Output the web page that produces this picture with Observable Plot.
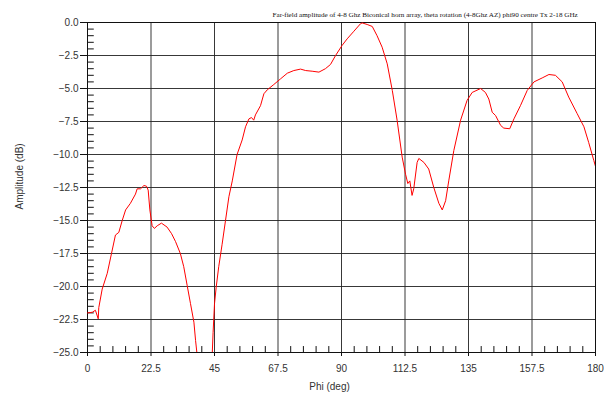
<!DOCTYPE html>
<html>
<head>
<meta charset="utf-8">
<script src="https://cdn.jsdelivr.net/npm/d3@7"></script>
<script src="https://cdn.jsdelivr.net/npm/@observablehq/plot@0.6"></script>
<style>
  html, body { margin: 0; padding: 0; background: #fff; }
</style>
</head>
<body>
<div id="chart"></div>
<script>
const titleText = "Far-field amplitude of 4-8 Ghz Biconical horn array, theta rotation (4-8Ghz AZ) phi90 centre Tx 2-18 GHz";
const xLabel = "Phi (deg)";
const yLabel = "Amplitude (dB)";

const xTicks = [0, 22.5, 45, 67.5, 90, 112.5, 135, 157.5, 180];
const yTicks = [0, -2.5, -5, -7.5, -10, -12.5, -15, -17.5, -20, -22.5, -25];

const phi = [0, 1.7, 2.8, 3.8, 4.0, 5.2, 7.0, 8.5, 9.9, 11.1, 12.3, 13.5, 15.2, 17.0, 17.6, 18.8, 20.0, 20.9, 21.5, 22.1, 22.9, 23.7, 24.7, 26.2, 28.2, 29.8, 31.2, 32.9, 34.1, 35.3, 36.5, 37.7, 38.3, 38.9, 40.0, 41.5, 43.0, 44.2, 44.5, 45.0, 45.6, 46.5, 47.7, 48.9, 50.1, 51.3, 53.0, 54.8, 56.0, 57.2, 58.1, 58.9, 59.5, 61.3, 62.5, 63.7, 66.0, 68.4, 70.8, 73.1, 75.5, 77.3, 79.6, 82.0, 84.3, 86.1, 87.9, 90.2, 92.0, 94.4, 96.7, 97.3, 99.1, 100.9, 102.6, 104.4, 106.2, 108.0, 109.7, 111.5, 112.7, 113.5, 114.2, 115.0, 115.6, 116.8, 117.4, 119.2, 120.9, 122.7, 124.5, 125.7, 126.9, 128.0, 129.8, 132.2, 134.5, 136.3, 139.3, 141.0, 142.2, 143.4, 144.6, 146.4, 147.5, 149.6, 151.1, 153.4, 155.8, 158.2, 161.1, 163.5, 165.8, 168.2, 170.5, 173.5, 175.9, 177.6, 179.4, 180];
const amplitude = [-22.0, -21.95, -21.8, -22.45, -21.6, -20.2, -19.0, -17.5, -16.1, -15.9, -15.0, -14.2, -13.7, -13.0, -12.6, -12.6, -12.35, -12.4, -12.7, -14.2, -15.4, -15.6, -15.4, -15.2, -15.5, -16.0, -16.6, -17.5, -18.5, -19.9, -21.3, -22.7, -24.1, -25.3, -27.5, -29.0, -28.0, -25.1, -23.5, -21.3, -20.05, -18.5, -16.8, -15.0, -13.2, -12.0, -10.0, -8.9, -7.9, -7.3, -7.2, -7.4, -7.0, -6.3, -5.4, -5.1, -4.7, -4.27, -3.84, -3.64, -3.53, -3.64, -3.69, -3.76, -3.5, -3.18, -2.5, -1.74, -1.24, -0.66, -0.1, -0.03, -0.15, -0.3, -1.0, -1.87, -3.13, -5.15, -7.4, -10.2, -11.5, -12.2, -12.0, -13.1, -12.6, -10.6, -10.3, -10.6, -11.1, -12.5, -13.7, -14.2, -13.5, -12.0, -9.7, -7.4, -5.9, -5.3, -5.0, -5.3, -5.8, -6.8, -7.05, -7.8, -8.0, -8.05, -7.3, -6.3, -5.15, -4.5, -4.2, -3.94, -4.0, -4.5, -5.65, -6.9, -7.9, -9.1, -10.45, -10.9];

const data = phi.map((p, i) => ({phi: p, amp: amplitude[i]}));
const xMinor = d3.range(0, 180.001, 4.5).filter(v => !xTicks.includes(v));
const yMinor = d3.range(0, -25.001, -0.5).map(v => Math.round(v * 10) / 10).filter(v => !yTicks.includes(v));

const chart = Plot.plot({
  width: 604,
  height: 396,
  marginTop: 22,
  marginLeft: 87,
  marginRight: 9,
  marginBottom: 44,
  style: {fontFamily: "'Liberation Sans', Arial, sans-serif", fontSize: "10px", color: "#333", background: "#fff"},
  x: {domain: [0, 180], ticks: xTicks, label: null},
  y: {domain: [-25, 0], ticks: yTicks, label: null},
  marks: [
    Plot.gridX(xTicks, {stroke: "#222", strokeOpacity: 0.9, strokeWidth: 1}),
    Plot.gridY(yTicks, {stroke: "#222", strokeOpacity: 0.9, strokeWidth: 1}),
    Plot.ruleX(xMinor, {y1: -25, y2: -24.55, stroke: "#111"}),
    Plot.ruleY(yMinor, {x1: 0, x2: 2.4, stroke: "#111"}),
    Plot.frame({stroke: "#111"}),
    Plot.axisX(xTicks, {tickSize: 4, tickPadding: 8, tickFormat: d => String(d), fill: "#333", stroke: "#111"}),
    Plot.axisY(yTicks, {tickSize: 7, tickPadding: 2, tickFormat: d3.format(".1f"), fill: "#333", stroke: "#111"}),
    Plot.line(data, {x: "phi", y: "amp", stroke: "#ff0000", strokeWidth: 1, clip: true}),
    Plot.text([titleText], {frameAnchor: "top-left", textAnchor: "start", lineAnchor: "bottom", dx: 185, dy: -6, fontFamily: "'Liberation Serif', 'Times New Roman', serif", fontSize: 7.15, fill: "#111"}),
    Plot.text([yLabel], {frameAnchor: "left", rotate: -90, dx: -68, dy: 22, fill: "#333"}),
    Plot.text([xLabel], {frameAnchor: "bottom", dy: 37, dx: -12, fill: "#333"})
  ]
});
document.getElementById("chart").appendChild(chart);
</script>
</body>
</html>
